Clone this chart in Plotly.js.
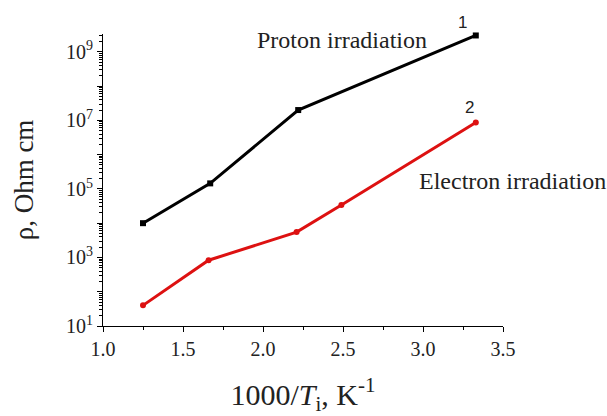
<!DOCTYPE html>
<html>
<head>
<meta charset="utf-8">
<script src="https://cdn.plot.ly/plotly-3.0.1.min.js"></script>
<style>
  html, body { margin: 0; padding: 0; background: #fff; }
  #chart { width: 607px; height: 416px; }
</style>
</head>
<body>
<div id="chart"></div>
<script>
// Resistivity vs. inverse irradiation temperature
const protonX = [1.25, 1.67, 2.22, 3.33];
const protonRho = [1.0e4, 1.45e5, 2.0e7, 3.0e9];

const electronX = [1.25, 1.66, 2.21, 2.49, 3.33];
const electronRho = [40, 830, 5500, 3.4e4, 8.7e6];

const decades = [1, 2, 3, 4, 5, 6, 7, 8, 9];

// Major ticks every decade, labels on odd powers only
const majorVals = decades.map(k => Math.pow(10, k));
const majorText = decades.map(k => (k % 2 === 1) ? '10<sup>' + k + '</sup>' : '');
const minorVals = [];
for (const k of decades) {
  for (let d = 2; d <= 9; d++) minorVals.push(d * Math.pow(10, k));
}
const xMinorVals = [1.25, 1.75, 2.25, 2.75, 3.25];

const serif = 'Liberation Serif, Times New Roman, serif';
const sans = 'Liberation Sans, Arial, sans-serif';
const xRange = [1.0, 3.5];
const yRange = [1, 9.52];

const traces = [
  {
    x: protonX, y: protonRho, mode: 'lines+markers', type: 'scatter',
    line: { color: '#000000', width: 3 },
    marker: { symbol: 'square', size: 6, color: '#000000' },
    cliponaxis: false
  },
  {
    x: electronX, y: electronRho, mode: 'lines+markers', type: 'scatter',
    line: { color: '#dd1111', width: 3 },
    marker: { symbol: 'circle', size: 6, color: '#dd1111' },
    cliponaxis: false
  }
];

const layout = {
  width: 607, height: 416,
  margin: { l: 103, r: 104, t: 34, b: 90 },
  paper_bgcolor: '#ffffff', plot_bgcolor: '#ffffff',
  showlegend: false,
  font: { family: serif, color: '#222' },
  xaxis: {
    range: xRange, tickmode: 'linear', tick0: 1.0, dtick: 0.5,
    tickformat: '.1f',
    ticks: 'outside', ticklen: 5, tickwidth: 1, tickcolor: '#000',
    showline: true, linecolor: '#000', linewidth: 1,
    showgrid: false, zeroline: false,
    tickfont: { family: serif, size: 20, color: '#222' },
    title: { text: '1000/<i>T</i><sub>i</sub>, K<sup>-1</sup>', font: { family: serif, size: 30, color: '#222' }, standoff: 24 }
  },
  // minor x ticks on an overlaid axis
  xaxis2: {
    overlaying: 'x', anchor: 'y', side: 'bottom', range: xRange,
    tickmode: 'array', tickvals: xMinorVals, ticktext: xMinorVals.map(() => ''),
    ticks: 'outside', ticklen: 3, tickwidth: 1, tickcolor: '#000',
    showline: false, showgrid: false, zeroline: false
  },
  yaxis: {
    type: 'log', range: yRange,
    tickmode: 'array', tickvals: majorVals, ticktext: majorText,
    ticks: 'outside', ticklen: 5, tickwidth: 1, tickcolor: '#000',
    showline: true, linecolor: '#000', linewidth: 1,
    showgrid: false, zeroline: false,
    tickfont: { family: serif, size: 20, color: '#222' },
    title: { text: 'ρ, Ohm cm', font: { family: serif, size: 27, color: '#222' }, standoff: 24 }
  },
  // minor y ticks on an overlaid axis
  yaxis2: {
    overlaying: 'y', anchor: 'x', side: 'left', type: 'log', range: yRange,
    tickmode: 'array', tickvals: minorVals, ticktext: minorVals.map(() => ''),
    ticks: 'outside', ticklen: 3, tickwidth: 1, tickcolor: '#000',
    showline: false, showgrid: false, zeroline: false
  },
  annotations: [
    { x: 0.5975, y: 0.979, xref: 'paper', yref: 'paper', xanchor: 'center', yanchor: 'middle',
      text: 'Proton irradiation', showarrow: false,
      font: { family: serif, size: 24, color: '#222' } },
    { x: 1.0225, y: 0.497, xref: 'paper', yref: 'paper', xanchor: 'center', yanchor: 'middle',
      text: 'Electron irradiation', showarrow: false,
      font: { family: serif, size: 24, color: '#222' } },
    { x: 0.8975, y: 1.041, xref: 'paper', yref: 'paper', xanchor: 'center', yanchor: 'middle',
      text: '1', showarrow: false,
      font: { family: sans, size: 17, color: '#222' } },
    { x: 0.917, y: 0.747, xref: 'paper', yref: 'paper', xanchor: 'center', yanchor: 'middle',
      text: '2', showarrow: false,
      font: { family: sans, size: 17, color: '#222' } }
  ]
};

// empty trace so the overlaid tick axes are drawn
traces.push({ x: [], y: [], xaxis: 'x2', yaxis: 'y2', type: 'scatter', hoverinfo: 'skip' });

Plotly.newPlot('chart', traces, layout, { displayModeBar: false, staticPlot: true });
</script>
</body>
</html>
